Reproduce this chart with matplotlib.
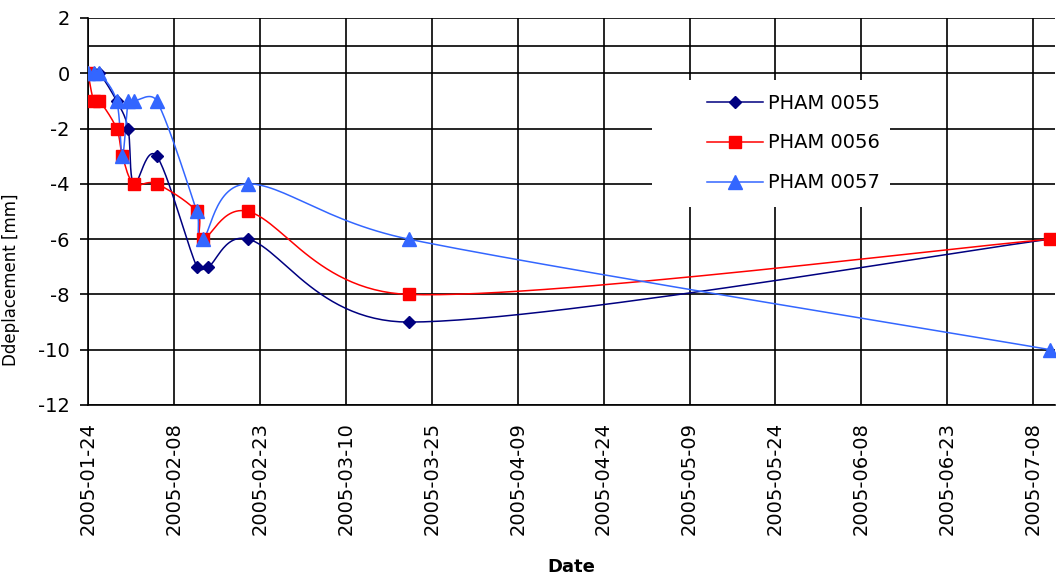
import numpy as np
import pandas as pd
import matplotlib
matplotlib.use('Agg')
import matplotlib.pyplot as plt
import matplotlib.dates as mdates
from matplotlib.patches import Rectangle

plt.rcParams['axes.unicode_minus'] = False

# data
dates_0055 = ['2005-01-24', '2005-01-25', '2005-01-26', '2005-01-29', '2005-01-31', '2005-02-01',
              '2005-02-05', '2005-02-12', '2005-02-14', '2005-02-21', '2005-03-21', '2005-07-11']
vals_0055 = [0, 0, 0, -1, -2, -4, -3, -7, -7, -6, -9, -6]

dates_0056 = ['2005-01-24', '2005-01-25', '2005-01-26', '2005-01-29', '2005-01-30', '2005-02-01',
              '2005-02-05', '2005-02-12', '2005-02-13', '2005-02-21', '2005-03-21', '2005-07-11']
vals_0056 = [0, -1, -1, -2, -3, -4, -4, -5, -6, -5, -8, -6]

dates_0057 = ['2005-01-24', '2005-01-25', '2005-01-26', '2005-01-29', '2005-01-30', '2005-01-31',
              '2005-02-01', '2005-02-05', '2005-02-12', '2005-02-13', '2005-02-21', '2005-03-21',
              '2005-07-11']
vals_0057 = [0, 0, 0, -1, -3, -1, -1, -1, -5, -6, -4, -6, -10]

series_names = ['PHAM 0055', 'PHAM 0056', 'PHAM 0057']
tick_dates = pd.date_range('2005-01-24', periods=12, freq='15D')
y_ticks = [2, 0, -2, -4, -6, -8, -10, -12]

# rough pixel scale of the plot, used so the smoothing behaves like Excel's
PX_PER_DAY = 5.727
PX_PER_MM = 27.64


def smooth(x, y, n=30):
    """Bezier smoothing through the points, control arms capped at half a segment."""
    x = np.asarray(x, float)
    y = np.asarray(y, float)
    P = np.column_stack([x * PX_PER_DAY, y * PX_PER_MM])
    P = np.vstack([P[0], P, P[-1]])
    t = np.linspace(0, 1, n)[:, None]
    out = []
    for i in range(1, len(P) - 2):
        p0, p1, p2, p3 = P[i - 1], P[i], P[i + 1], P[i + 2]
        d12 = np.linalg.norm(p2 - p1)
        d02 = np.linalg.norm(p2 - p0)
        d13 = np.linalg.norm(p3 - p1)
        f1 = 1 / 6 if d02 / 6 < d12 / 2 else d12 / (2 * d02)
        f2 = 1 / 6 if d13 / 6 < d12 / 2 else d12 / (2 * d13)
        c1 = p1 + f1 * (p2 - p0)
        c2 = p2 - f2 * (p3 - p1)
        seg = ((1 - t) ** 3) * p1 + 3 * ((1 - t) ** 2) * t * c1 + 3 * (1 - t) * t ** 2 * c2 + t ** 3 * p2
        out.append(seg)
    out = np.vstack(out)
    return out[:, 0] / PX_PER_DAY, out[:, 1] / PX_PER_MM


fig = plt.figure(figsize=(10.59, 5.78), dpi=100)
ax = fig.add_axes([88 / 1059, 1 - 405 / 578, 967 / 1059, 387 / 578])

styles = [('#000080', 'D', 6), ('#FF0000', 's', 9), ('#3366FF', '^', 9.5)]
all_dates = [dates_0055, dates_0056, dates_0057]
all_vals = [vals_0055, vals_0056, vals_0057]

for name, d, v, (col, mk, ms) in zip(series_names, all_dates, all_vals, styles):
    xn = mdates.date2num(pd.to_datetime(d))
    sx, sy = smooth(xn, v)
    ax.plot(sx, sy, color=col, lw=1.1, zorder=3)
    ax.plot(xn, v, linestyle='none', marker=mk, ms=ms, color=col, zorder=4)
    ax.plot([], [], color=col, lw=1.1, marker=mk, ms=ms, label=name)

x0 = mdates.date2num(pd.Timestamp('2005-01-24'))
ax.set_xlim(x0, x0 + 168.8)
ax.set_ylim(-12, 2)
ax.set_xticks(mdates.date2num(tick_dates))
ax.xaxis.set_major_formatter(mdates.DateFormatter('%Y-%m-%d'))
ax.set_yticks(y_ticks)

ax.set_axisbelow(True)
ax.grid(True, color='black', lw=1.2)
ax.axhline(1, color='black', lw=1.2, zorder=0.5)

for s in ['top', 'right']:
    ax.spines[s].set_visible(False)
for s in ['left', 'bottom']:
    ax.spines[s].set_linewidth(1.2)

ax.tick_params(axis='x', length=0, pad=12, labelsize=14, labelrotation=90)
ax.tick_params(axis='y', length=6, width=1.2, pad=7, labelsize=14, direction='out')

ax.set_ylabel('Ddeplacement [mm]', fontsize=12)
ax.yaxis.set_label_coords(-0.0703, 0.323)
ax.set_xlabel('Date', fontsize=13, fontweight='bold', va='center')
ax.xaxis.set_label_coords(0.5, -0.419)

# white box behind the legend hides the grid there
box = Rectangle((652 / 1059, 1 - 207 / 578), 238 / 1059, 127 / 578, transform=fig.transFigure,
                facecolor='white', edgecolor='none', zorder=1)
ax.add_patch(box)
ax.legend(loc='center left', bbox_to_anchor=(697 / 1059, 1 - 143 / 578), bbox_transform=fig.transFigure,
          frameon=False, borderpad=0, handlelength=2.9, handletextpad=0.25, labelspacing=1.07, fontsize=14)

fig.savefig('out.png', dpi=100)
